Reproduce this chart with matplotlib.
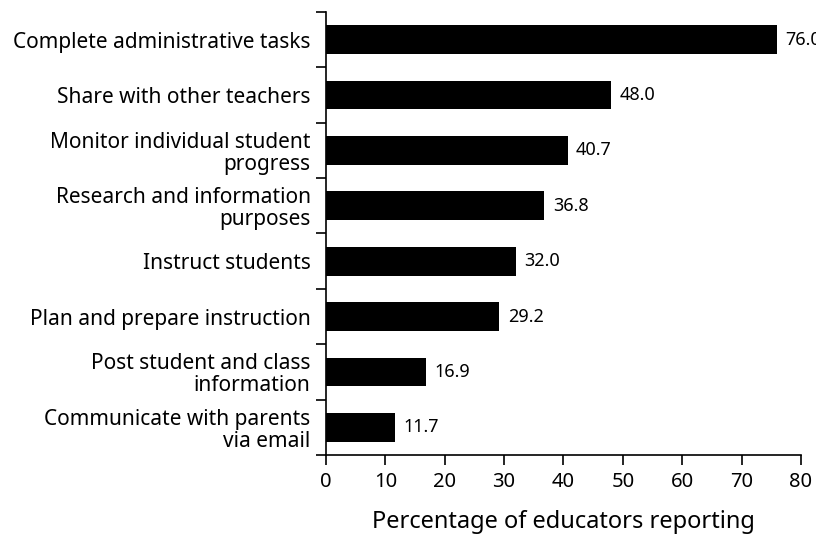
import matplotlib.pyplot as plt
import numpy as np

plt.rcParams['font.family'] = ['Noto Sans', 'DejaVu Sans']

categories = [
    'Complete administrative tasks',
    'Share with other teachers',
    'Monitor individual student\nprogress',
    'Research and information\npurposes',
    'Instruct students',
    'Plan and prepare instruction',
    'Post student and class\ninformation',
    'Communicate with parents\nvia email',
]
values = [76.0, 48.0, 40.7, 36.8, 32.0, 29.2, 16.9, 11.7]
x_ticks = [0, 10, 20, 30, 40, 50, 60, 70, 80]

fig = plt.figure(figsize=(8.16, 5.38), dpi=100)
ax = fig.add_axes([0.3995, 0.1543, 0.5821, 0.8234])

y = np.arange(len(categories))
ax.barh(y, values, height=0.52, color='black')

# value labels next to each bar
for i, v in enumerate(values):
    ax.text(v + 1.4, y[i], f'{v:.1f}', va='center', ha='left', fontsize=13, clip_on=False)

ax.set_ylim(len(categories) - 0.5, -0.5)
ax.set_xlim(0, 80)
ax.set_yticks(y)
ax.set_yticklabels(categories, fontsize=15, ha='right', multialignment='right', linespacing=1.05)
ax.set_yticks(np.arange(-0.5, len(categories)), minor=True)
ax.tick_params(axis='y', which='major', length=0, pad=11)
ax.tick_params(axis='y', which='minor', length=7, width=1.2, direction='out')

ax.set_xticks(x_ticks)
ax.set_xticklabels([str(t) for t in x_ticks], fontsize=14.5)
ax.tick_params(axis='x', length=7, width=1.2, direction='out', pad=5)
ax.set_xlabel('Percentage of educators reporting', fontsize=17, labelpad=13)

for side in ['top', 'right']:
    ax.spines[side].set_visible(False)
for side in ['left', 'bottom']:
    ax.spines[side].set_linewidth(1.2)

fig.savefig('out.png', dpi=100)
